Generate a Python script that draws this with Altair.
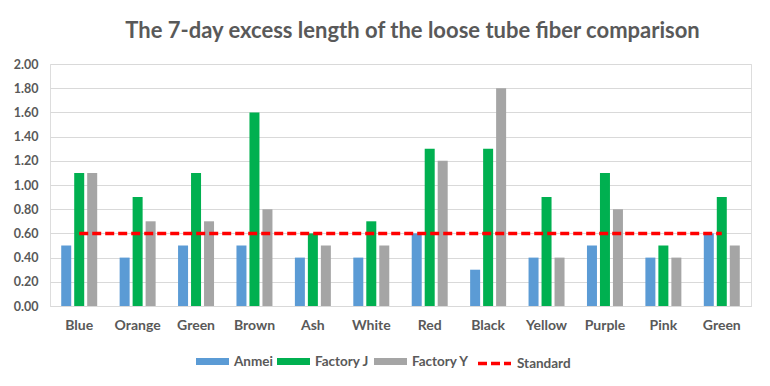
import altair as alt
import pandas as pd

categories = ["Blue", "Orange", "Green", "Brown", "Ash", "White",
              "Red", "Black", "Yellow", "Purple", "Pink", "Green"]
anmei = [0.5, 0.4, 0.5, 0.5, 0.4, 0.4, 0.6, 0.3, 0.4, 0.5, 0.4, 0.6]
factory_j = [1.1, 0.9, 1.1, 1.6, 0.6, 0.7, 1.3, 1.3, 0.9, 1.1, 0.5, 0.9]
factory_y = [1.1, 0.7, 0.7, 0.8, 0.5, 0.5, 1.2, 1.8, 0.4, 0.8, 0.4, 0.5]
standard = [0.6] * 12
y_ticks = [0.0, 0.2, 0.4, 0.6, 0.8, 1.0, 1.2, 1.4, 1.6, 1.8, 2.0]
series_names = ["Anmei", "Factory J", "Factory Y"]
series_colors = ["#5B9BD5", "#00B050", "#A5A5A5"]

rows = []
for name, vals in zip(series_names, [anmei, factory_j, factory_y]):
    for i, v in enumerate(vals):
        rows.append({"idx": i, "series": name, "value": v})
bars_df = pd.DataFrame(rows)
line_df = pd.DataFrame({"idx": list(range(len(categories))),
                        "value": standard,
                        "kind": ["Standard"] * len(categories)})

label_expr = "[" + ",".join("'%s'" % c for c in categories) + "][datum.value]"
FONT = "Lato"
GRAY = "#595959"

x_enc = alt.X("idx:O", title=None,
              scale=alt.Scale(paddingInner=0.384, paddingOuter=0.192),
              axis=alt.Axis(labelExpr=label_expr, labelAngle=0, ticks=False,
                            domain=True, domainColor="#D9D9D9",
                            labelFont=FONT, labelFontSize=14,
                            labelFontWeight="bold", labelColor=GRAY,
                            labelPadding=12))

y_enc = alt.Y("value:Q", title=None,
              scale=alt.Scale(domain=[0, 2]),
              axis=alt.Axis(values=y_ticks, labelOverlap=False, labelBound=False,
                            labelSeparation=0,
                            format=".2f", ticks=False, domain=False,
                            gridColor="#D9D9D9", labelFont=FONT,
                            labelFontSize=12.5, labelFontWeight="bold",
                            labelColor=GRAY, labelPadding=12))

bars = alt.Chart(bars_df).mark_bar().encode(
    x=x_enc,
    xOffset=alt.XOffset("series:N", sort=series_names,
                        scale=alt.Scale(paddingInner=0.23)),
    y=y_enc,
    color=alt.Color("series:N", sort=series_names,
                    scale=alt.Scale(domain=series_names, range=series_colors),
                    legend=alt.Legend(title=None, orient="none", direction="horizontal",
                                      legendX=146, legendY=281,
                                      symbolType="M-1,-0.21L1,-0.21L1,0.21L-1,0.21Z",
                                      symbolSize=1089, symbolStrokeWidth=0,
                                      labelFont=FONT, labelFontSize=13.5,
                                      labelFontWeight="bold", labelColor=GRAY,
                                      labelOffset=5, columnPadding=4)),
)

line = alt.Chart(line_df).mark_line(color="#FF0000", strokeWidth=3.5).encode(
    x=x_enc,
    y=y_enc,
    strokeDash=alt.StrokeDash("kind:N",
                              scale=alt.Scale(domain=["Standard"], range=[[9, 4]]),
                              legend=alt.Legend(title=None, orient="none",
                                                legendX=426, legendY=281,
                                                symbolType="stroke", symbolSize=1089,
                                                symbolStrokeColor="#FF0000",
                                                symbolStrokeWidth=3.5,
                                                labelFont=FONT, labelFontSize=13.5,
                                                labelFontWeight="bold", labelColor=GRAY,
                                                labelOffset=4)),
)

chart = alt.layer(bars, line).properties(
    width=701, height=242,
    title=alt.TitleParams("The 7-day excess length of the loose tube fiber comparison",
                          font=FONT, fontSize=22, fontWeight="bold", color=GRAY,
                          anchor="middle", dx=12, offset=15),
    autosize=alt.AutoSizeParams(type="none"),
    padding={"left": 42, "top": 56, "right": 11, "bottom": 72},
).configure_view(stroke=None).configure(background="white").configure_axisY(
    labelOverlap=False
)

chart.save("out.html", embed_options={"renderer": "svg", "actions": False})
